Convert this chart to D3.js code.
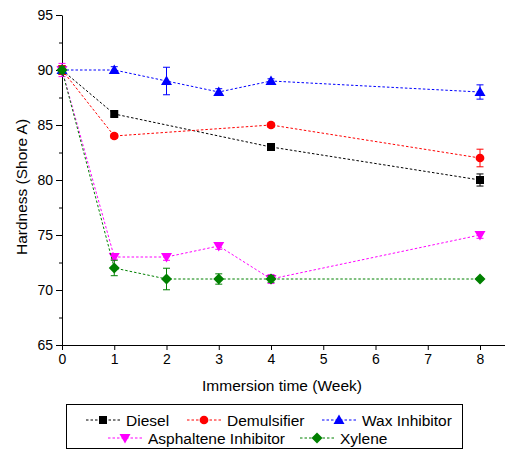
<!DOCTYPE html>
<html><head><meta charset="utf-8">
<script src="https://cdn.jsdelivr.net/npm/d3@7"></script>
<style>html,body{margin:0;padding:0;background:#fff;}svg{display:block;font-family:"Liberation Sans",Arial,sans-serif;}</style>
</head><body>
<svg id="c" width="505" height="450"></svg>
<script>
const seriesNames = ["Diesel", "Demulsifier", "Wax Inhibitor", "Asphaltene Inhibitor", "Xylene"];
const seriesColors = ["#000000", "#ff0000", "#0000ff", "#ff00ff", "#008000"];
const seriesSymbols = ["square", "circle", "triangleUp", "triangleDown", "diamond"];
const dieselX = [0, 1, 4, 8];
const dieselY = [90, 86, 83, 80];
const dieselErr = [0.4, 0.2, 0.2, 0.55];
const demulsifierX = [0, 1, 4, 8];
const demulsifierY = [90, 84, 85, 82];
const demulsifierErr = [0.4, 0.2, 0.2, 0.8];
const waxX = [0, 1, 2, 3, 4, 8];
const waxY = [90, 90, 89, 88, 89, 88];
const waxErr = [0.2, 0.3, 1.25, 0.3, 0.2, 0.65];
const asphalteneX = [0, 1, 2, 3, 4, 8];
const asphalteneY = [90, 73, 73, 74, 71, 75];
const asphalteneErr = [0.6, 0.2, 0.3, 0.3, 0.4, 0.3];
const xyleneX = [0, 1, 2, 3, 4, 8];
const xyleneY = [90, 72, 71, 71, 71, 71];
const xyleneErr = [0.3, 0.7, 0.98, 0.47, 0.3, 0.1];
const xTicks = [0, 1, 2, 3, 4, 5, 6, 7, 8];
const yTicks = [65, 70, 75, 80, 85, 90, 95];
const yMinor = [67.5, 72.5, 77.5, 82.5, 87.5, 92.5];

const xs = [dieselX, demulsifierX, waxX, asphalteneX, xyleneX];
const ys = [dieselY, demulsifierY, waxY, asphalteneY, xyleneY];
const es = [dieselErr, demulsifierErr, waxErr, asphalteneErr, xyleneErr];
const series = seriesNames.map((n, i) => ({
  name: n, color: seriesColors[i], symbol: seriesSymbols[i],
  pts: xs[i].map((x, j) => ({x, y: ys[i][j], e: es[i][j]}))
}));

const svg = d3.select("#c");
const x = d3.scaleLinear().domain([0, 8]).range([62, 480]);
const xAxisScale = d3.scaleLinear().domain([0, 8.5]).range([62, 62 + 8.5 * (418 / 8)]);
const y = d3.scaleLinear().domain([65, 95]).range([345, 15]);

// Y minor ticks
svg.append("g").attr("transform", "translate(62,0)")
  .call(d3.axisLeft(y).tickValues(yMinor).tickSize(3).tickFormat(""))
  .call(g => g.select(".domain").remove())
  .call(g => g.selectAll("line").attr("stroke", "#000"));
// Y axis
const ya = svg.append("g").attr("transform", "translate(62,0)")
  .call(d3.axisLeft(y).tickValues(yTicks).tickSize(6).tickSizeOuter(0).tickPadding(3));
ya.selectAll("text").attr("font-size", "14px").attr("font-family", "Liberation Sans, Arial, sans-serif").attr("fill", "#000");
ya.selectAll("line,path").attr("stroke", "#000");
// X axis
const xa = svg.append("g").attr("transform", "translate(0,345)")
  .call(d3.axisBottom(xAxisScale).tickValues(xTicks).tickSize(5).tickSizeOuter(0).tickPadding(4).tickFormat(d3.format("d")));
xa.selectAll("text").attr("font-size", "14px").attr("font-family", "Liberation Sans, Arial, sans-serif").attr("fill", "#000");
xa.selectAll("line,path").attr("stroke", "#000");

// Titles
svg.append("text").attr("x", 282).attr("y", 391).attr("text-anchor", "middle")
  .attr("font-size", "15.5px").text("Immersion time (Week)");
svg.append("text").attr("transform", "translate(27,187) rotate(-90)").attr("text-anchor", "middle")
  .attr("font-size", "15.5px").text("Hardness (Shore A)");

function symPath(sym) {
  if (sym === "square") return d3.symbol(d3.symbolSquare, 64)();
  if (sym === "circle") return d3.symbol(d3.symbolCircle, 60)();
  if (sym === "diamond") return "M0,-5.5L5.5,0L0,5.5L-5.5,0Z";
  if (sym === "triangleUp") return "M0,-5.5L5.5,4L-5.5,4Z";
  if (sym === "triangleDown") return "M0,5.5L5.5,-4L-5.5,-4Z";
}

const line = d3.line().x(d => x(d.x)).y(d => y(d.y));
series.forEach(s => {
  const g = svg.append("g");
  g.append("path").attr("d", line(s.pts)).attr("fill", "none")
    .attr("stroke", s.color).attr("stroke-width", 1).attr("stroke-dasharray", "2.5,2");
  const eb = g.selectAll(".eb").data(s.pts).enter().append("g");
  eb.append("line").attr("x1", d => x(d.x)).attr("x2", d => x(d.x))
    .attr("y1", d => y(d.y - d.e)).attr("y2", d => y(d.y + d.e)).attr("stroke", s.color);
  eb.append("line").attr("x1", d => x(d.x) - 3.5).attr("x2", d => x(d.x) + 3.5)
    .attr("y1", d => y(d.y - d.e)).attr("y2", d => y(d.y - d.e)).attr("stroke", s.color);
  eb.append("line").attr("x1", d => x(d.x) - 3.5).attr("x2", d => x(d.x) + 3.5)
    .attr("y1", d => y(d.y + d.e)).attr("y2", d => y(d.y + d.e)).attr("stroke", s.color);
  g.selectAll(".m").data(s.pts).enter().append("path")
    .attr("d", symPath(s.symbol)).attr("transform", d => `translate(${x(d.x)},${y(d.y)})`)
    .attr("fill", s.color);
});

// Legend
svg.append("rect").attr("x", 66.5).attr("y", 404.5).attr("width", 396).attr("height", 44)
  .attr("fill", "none").attr("stroke", "#000").attr("stroke-width", 1);
const legendPos = [
  {lx: 86, ty: 420}, {lx: 187, ty: 420}, {lx: 322, ty: 420},
  {lx: 108, ty: 438}, {lx: 300, ty: 438}
];
series.forEach((s, i) => {
  const p = legendPos[i];
  const g = svg.append("g");
  g.append("line").attr("x1", p.lx).attr("x2", p.lx + 34).attr("y1", p.ty).attr("y2", p.ty)
    .attr("stroke", s.color).attr("stroke-dasharray", "2.5,2");
  g.append("path").attr("d", symPath(s.symbol)).attr("transform", `translate(${p.lx + 17},${p.ty})`).attr("fill", s.color);
  g.append("text").attr("x", p.lx + 40).attr("y", p.ty + 5.5).attr("font-size", "15.5px").text(s.name);
});
</script>
</body></html>
